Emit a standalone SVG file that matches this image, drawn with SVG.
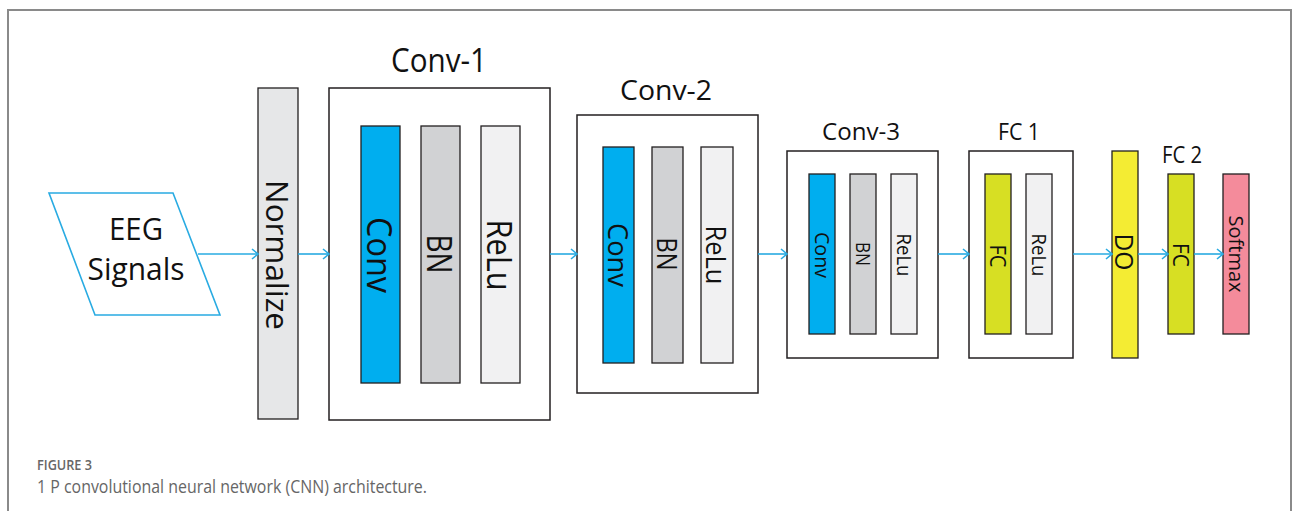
<svg xmlns="http://www.w3.org/2000/svg" width="1293" height="511" viewBox="0 0 1293 511">
<defs>
<style>
.frame{fill:none;stroke:#8a8a8a;stroke-width:2}
.box{fill:#fff;stroke:#231f20;stroke-width:1.5}
.bar{stroke:#231f20;stroke-width:1.3}
.conv{fill:#00aeef}
.bn{fill:#d1d2d4}
.relu{fill:#f1f1f2}
.norm{fill:#e6e7e8}
.fc{fill:#d7df23}
.do{fill:#f4ec33}
.soft{fill:#f48b9b}
.t{font-family:"Open Sans","Liberation Sans",sans-serif;fill:#111;text-anchor:middle}
.v{font-family:"Open Sans","Liberation Sans",sans-serif;fill:#111;text-anchor:middle;dominant-baseline:central}
.arr{stroke:#29abe2;stroke-width:1.6;fill:none;marker-end:url(#ah)}
.cap{font-family:"Open Sans","Liberation Sans",sans-serif;fill:#666}
</style>
<marker id="ah" markerWidth="10" markerHeight="12" refX="9" refY="6" orient="auto" markerUnits="userSpaceOnUse">
<path d="M3,1 L9,6 L3,11" fill="none" stroke="#29abe2" stroke-width="1.6"/>
</marker>
</defs>
<rect width="1293" height="511" fill="#fff"/>
<path class="frame" d="M8,530 L8,10 L1291,10 L1291,530"/>

<g id="input">
<polygon points="49,193 173,193 220,315 95,315" fill="#fff" stroke="#29abe2" stroke-width="1.6"/>
<text class="t" x="136" y="240" font-size="31" textLength="54" lengthAdjust="spacingAndGlyphs">EEG</text>
<text class="t" x="136" y="280" font-size="31" textLength="97" lengthAdjust="spacingAndGlyphs">Signals</text>
</g>

<g id="normalize">
<rect class="bar norm" x="258" y="88" width="40" height="331"/>
<text class="v" transform="translate(278,255) rotate(90)" font-size="31" textLength="150" lengthAdjust="spacingAndGlyphs">Normalize</text>
</g>

<g id="conv1">
<rect class="box" x="329" y="88" width="221" height="332"/>
<text class="t" x="439" y="72" font-size="33" textLength="96" lengthAdjust="spacingAndGlyphs">Conv-1</text>
<rect class="bar conv" x="361" y="126" width="39" height="257"/>
<rect class="bar bn" x="421" y="126" width="39" height="257"/>
<rect class="bar relu" x="481" y="126" width="39" height="257"/>
<text class="v" transform="translate(380.5,255) rotate(90)" font-size="35" textLength="76" lengthAdjust="spacingAndGlyphs">Conv</text>
<text class="v" transform="translate(440.5,254) rotate(90)" font-size="35" textLength="39" lengthAdjust="spacingAndGlyphs">BN</text>
<text class="v" transform="translate(500.5,255) rotate(90)" font-size="35" textLength="71" lengthAdjust="spacingAndGlyphs">ReLu</text>
</g>

<g id="conv2">
<rect class="box" x="577" y="115" width="181" height="278"/>
<text class="t" x="666" y="100" font-size="28" textLength="92" lengthAdjust="spacingAndGlyphs">Conv-2</text>
<rect class="bar conv" x="603" y="147" width="31" height="216"/>
<rect class="bar bn" x="652" y="147" width="31" height="216"/>
<rect class="bar relu" x="701" y="147" width="32" height="216"/>
<text class="v" transform="translate(618.5,255) rotate(90)" font-size="28" textLength="64" lengthAdjust="spacingAndGlyphs">Conv</text>
<text class="v" transform="translate(667.5,254) rotate(90)" font-size="28" textLength="33" lengthAdjust="spacingAndGlyphs">BN</text>
<text class="v" transform="translate(717,255) rotate(90)" font-size="28" textLength="59" lengthAdjust="spacingAndGlyphs">ReLu</text>
</g>

<g id="conv3">
<rect class="box" x="787" y="151" width="151" height="207"/>
<text class="t" x="861" y="140" font-size="24" textLength="78" lengthAdjust="spacingAndGlyphs">Conv-3</text>
<rect class="bar conv" x="809" y="174" width="26" height="160"/>
<rect class="bar bn" x="850" y="174" width="26" height="160"/>
<rect class="bar relu" x="891" y="174" width="26" height="160"/>
<text class="v" transform="translate(822,255) rotate(90)" font-size="20" textLength="46" lengthAdjust="spacingAndGlyphs">Conv</text>
<text class="v" transform="translate(863,254) rotate(90)" font-size="20" textLength="24" lengthAdjust="spacingAndGlyphs">BN</text>
<text class="v" transform="translate(904,255) rotate(90)" font-size="20" textLength="43" lengthAdjust="spacingAndGlyphs">ReLu</text>
</g>

<g id="fc1">
<rect class="box" x="969" y="151" width="104" height="207"/>
<text class="t" x="1019" y="140" font-size="23" textLength="42" lengthAdjust="spacingAndGlyphs">FC 1</text>
<rect class="bar fc" x="985" y="174" width="26" height="160"/>
<rect class="bar relu" x="1026" y="174" width="26" height="160"/>
<text class="v" transform="translate(998,256) rotate(90)" font-size="21" textLength="23" lengthAdjust="spacingAndGlyphs">FC</text>
<text class="v" transform="translate(1039,255) rotate(90)" font-size="20" textLength="43" lengthAdjust="spacingAndGlyphs">ReLu</text>
</g>

<g id="dropout">
<rect class="bar do" x="1112" y="151" width="26" height="207"/>
<text class="v" transform="translate(1125,252) rotate(90)" font-size="25" textLength="37" lengthAdjust="spacingAndGlyphs">DO</text>
</g>

<g id="fc2">
<text class="t" x="1182" y="163" font-size="23" textLength="40" lengthAdjust="spacingAndGlyphs">FC 2</text>
<rect class="bar fc" x="1168" y="174" width="26" height="160"/>
<text class="v" transform="translate(1181,255) rotate(90)" font-size="21" textLength="24" lengthAdjust="spacingAndGlyphs">FC</text>
</g>

<g id="softmax">
<rect class="bar soft" x="1223" y="174" width="26" height="160"/>
<text class="v" transform="translate(1236,254) rotate(90)" font-size="20" textLength="77" lengthAdjust="spacingAndGlyphs">Softmax</text>
</g>

<g id="connectors">
<line class="arr" x1="198" y1="254" x2="258" y2="254"/>
<line class="arr" x1="298" y1="254" x2="329" y2="254"/>
<line class="arr" x1="550" y1="254" x2="577" y2="254"/>
<line class="arr" x1="758" y1="254" x2="787" y2="254"/>
<line class="arr" x1="938" y1="254" x2="969" y2="254"/>
<line class="arr" x1="1073" y1="254" x2="1112" y2="254"/>
<line class="arr" x1="1138" y1="254" x2="1168" y2="254"/>
<line class="arr" x1="1194" y1="254" x2="1223" y2="254"/>
</g>

<g id="caption">
<text class="cap" x="37" y="470" font-size="14" font-weight="600" textLength="55" lengthAdjust="spacingAndGlyphs">FIGURE 3</text>
<text class="cap" x="37" y="493" font-size="18" textLength="390" lengthAdjust="spacingAndGlyphs">1 P convolutional neural network (CNN) architecture.</text>
</g>
</svg>
